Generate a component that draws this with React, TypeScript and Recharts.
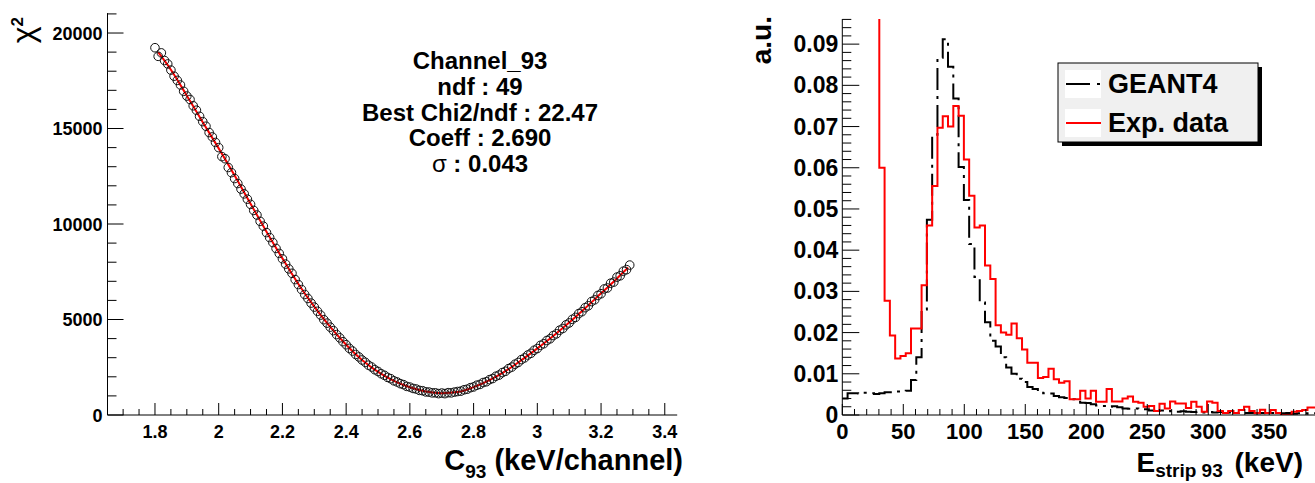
import { ComposedChart, LineChart, Line, Scatter, XAxis, YAxis } from "recharts";

const FONT = "'Liberation Sans', Arial, Helvetica, sans-serif";

// ---- left pad: chi2 scan of the calibration coefficient, channel 93 ----
const SCAN_START = 1.8;
const SCAN_STEP = 0.01;
const CHI2 = [
  19230, 18780, 18960, 18560, 18380, 18060, 17740, 17520, 17280, 16950,
  16700, 16520, 16190, 15960, 15640, 15360, 15120, 14790, 14560, 14270,
  14000, 13530, 13420, 12960, 12690, 12380, 12120, 11830, 11580, 11300,
  11030, 10710, 10470, 10140, 9890, 9550, 9290, 9030, 8720, 8460,
  8180, 7900, 7650, 7420, 7090, 6830, 6570, 6310, 6100, 5860,
  5650, 5430, 5230, 4990, 4810, 4600, 4420, 4210, 4040, 3840,
  3680, 3490, 3350, 3170, 3040, 2880, 2760, 2610, 2510, 2370,
  2280, 2160, 2080, 1970, 1900, 1790, 1730, 1640, 1590, 1500,
  1460, 1390, 1360, 1290, 1270, 1210, 1200, 1160, 1160, 1120,
  1150, 1120, 1170, 1160, 1200, 1230, 1250, 1320, 1350, 1430,
  1470, 1560, 1600, 1700, 1740, 1850, 1910, 2030, 2090, 2220,
  2290, 2430, 2510, 2660, 2750, 2900, 2990, 3140, 3230, 3390,
  3480, 3650, 3730, 3900, 3990, 4160, 4250, 4440, 4530, 4720,
  4820, 5010, 5110, 5310, 5410, 5620, 5720, 5940, 6030, 6260,
  6350, 6600, 6650, 6900, 6960, 7220, 7290, 7530, 7610, 7850,
];

// red fit curve
const FIT_C = [
  1.81, 1.85, 1.9, 1.95, 2.0, 2.05, 2.1, 2.15, 2.2, 2.25, 2.3, 2.35, 2.4, 2.45, 2.5, 2.55,
  2.6, 2.65, 2.7, 2.75, 2.8, 2.85, 2.9, 2.95, 3.0, 3.05, 3.1, 3.15, 3.2, 3.25, 3.285,
];
const FIT_CHI2 = [
  19000, 18080, 16720, 15330, 13960, 12540, 11060, 9600, 8200, 6860, 5670, 4610, 3680, 2880, 2260, 1790,
  1450, 1230, 1140, 1200, 1460, 1830, 2300, 2870, 3490, 4140, 4840, 5590, 6370, 7150, 7720,
];

const STATS = ["Channel_93", "ndf : 49", "Best Chi2/ndf : 22.47", "Coeff : 2.690"];
const SIGMA_TEXT = " : 0.043";

// ---- right pad: energy spectra of strip 93 ----
const BIN_KEV = 13 / 3;
const GEANT4_FIRST_BIN = 0;
const GEANT4 = [
  0.004, 0.0053, 0.0053, 0.0052, 0.0054, 0.0053, 0.0051, 0.0053, 0.0055, 0.0055,
  0.0057, 0.0057, 0.0059, 0.0085, 0.014, 0.0256, 0.0474, 0.068, 0.0867, 0.0912,
  0.0845, 0.0768, 0.0602, 0.0522, 0.0415, 0.0335, 0.0273, 0.0225, 0.018, 0.0166,
  0.014, 0.0115, 0.01, 0.0088, 0.008, 0.0068, 0.0063, 0.0057, 0.0053, 0.0052,
  0.0046, 0.0043, 0.0041, 0.0038, 0.0032, 0.003, 0.0029, 0.0026, 0.0023, 0.0022,
  0.002, 0.0021, 0.0019, 0.0016, 0.0015, 0.0016, 0.0015, 0.0014, 0.0011, 0.001,
  0.0011, 0.0009, 0.001, 0.0008, 0.0009, 0.0008, 0.0007, 0.0008, 0.0006, 0.0007,
  0.0006, 0.0007, 0.0005, 0.0006, 0.0005, 0.0006, 0.0005, 0.0005, 0.0004, 0.0005,
  0.0004, 0.0005, 0.0004, 0.0004, 0.0005, 0.0003, 0.0004, 0.0004, 0.0003, 0.0004,
];
const EXP_FIRST_BIN = 6;
const EXP_DATA = [
  0.15, 0.06, 0.0277, 0.0193, 0.0137, 0.0143, 0.015, 0.021, 0.021, 0.0315,
  0.046, 0.0556, 0.0697, 0.0725, 0.07, 0.075, 0.0726, 0.062, 0.0532, 0.0455,
  0.046, 0.0363, 0.033, 0.0218, 0.02, 0.0195, 0.0222, 0.0186, 0.0159, 0.0127,
  0.0127, 0.009, 0.0092, 0.0112, 0.0087, 0.0078, 0.0082, 0.0038, 0.0038, 0.0059,
  0.004, 0.0059, 0.0032, 0.0032, 0.0063, 0.0033, 0.0033, 0.004, 0.0045, 0.0032,
  0.003, 0.002, 0.0022, 0.001, 0.0027, 0.0016, 0.0033, 0.0028, 0.0028, 0.0017,
  0.0032, 0.002, 0.0008, 0.0033, 0.003, 0.001, 0.0005, 0.001, 0.0005, 0.0012,
  0.002, 0.001, 0.0005, 0.0013, 0.0005, 0.0012, 0.0005, 0, 0, 0.0008,
  0.001, 0.0012, 0.0018, 0.0018,
];
const SERIES = [
  { name: "GEANT4", color: "#000000", dash: "22 6 3 6" },
  { name: "Exp. data", color: "#ff0000", dash: undefined },
];

// axis ticks (ROOT style: major + minor, pointing inwards)
const C_TICKS = Array.from({ length: 35 }, (_, i) => Math.round((1.7 + i * 0.05) * 100) / 100);
const CHI_TICKS = Array.from({ length: 22 }, (_, i) => i * 1000);
const E_TICKS = Array.from({ length: 39 }, (_, i) => i * 10);
const AU_TICKS = Array.from({ length: 49 }, (_, i) => Math.round(i * 2) / 1000);

const scanData = CHI2.map((chi2, i) => ({ c: +(SCAN_START + i * SCAN_STEP).toFixed(2), chi2 }));
const fitData = FIT_C.map((c, i) => ({ c, chi2: FIT_CHI2[i] }));

function toSteps(first: number, values: number[]) {
  const pts = values.map((v, k) => ({ e: (first + k) * BIN_KEV, v }));
  pts.push({ e: (first + values.length) * BIN_KEV, v: values[values.length - 1] });
  return pts;
}
const geantSteps = toSteps(GEANT4_FIRST_BIN, GEANT4);
const expSteps = toSteps(EXP_FIRST_BIN, EXP_DATA);

// pixel positions of the axes inside each svg
const L_AXIS_X = 107.5;
const R_AXIS_X = 102.3;
const AXIS_Y = 415;

const txt = { fontFamily: FONT, fontWeight: "bold" as const, fill: "#000" };

const ChiYTick = (props: any) => {
  const { y, payload } = props;
  const major = payload.value % 5000 === 0;
  return (
    <g>
      <line x1={L_AXIS_X} x2={L_AXIS_X + (major ? 16 : 9)} y1={y} y2={y} stroke="#000" />
      {major && (
        <text x={L_AXIS_X - 5} y={y + 6.5} textAnchor="end" fontSize={18} {...txt}>
          {payload.value}
        </text>
      )}
    </g>
  );
};

const CXTick = (props: any) => {
  const { x, payload } = props;
  const major = Math.round(payload.value * 100) % 20 === 0;
  return (
    <g>
      <line x1={x} x2={x} y1={AXIS_Y} y2={AXIS_Y - (major ? 12 : 6)} stroke="#000" />
      {major && (
        <text x={x} y={AXIS_Y + 22.5} textAnchor="middle" fontSize={18} {...txt}>
          {String(Number(payload.value.toFixed(1)))}
        </text>
      )}
    </g>
  );
};

const AuYTick = (props: any) => {
  const { y, payload } = props;
  const major = Math.round(payload.value * 1000) % 10 === 0;
  const label = payload.value === 0 ? "0" : payload.value.toFixed(2);
  return (
    <g>
      <line x1={R_AXIS_X} x2={R_AXIS_X + (major ? 17 : 9)} y1={y} y2={y} stroke="#000" />
      {major && (
        <text x={R_AXIS_X - 4} y={y + 8} textAnchor="end" fontSize={23} {...txt}>
          {label}
        </text>
      )}
    </g>
  );
};

const EXTick = (props: any) => {
  const { x, payload } = props;
  const major = payload.value % 50 === 0;
  return (
    <g>
      <line x1={x} x2={x} y1={AXIS_Y} y2={AXIS_Y - (major ? 11 : 6)} stroke="#000" />
      {major && (
        <text x={x} y={AXIS_Y + 24} textAnchor="middle" fontSize={22} {...txt}>
          {payload.value}
        </text>
      )}
    </g>
  );
};

export default function App() {
  return (
    <div style={{ position: "absolute", left: 0, top: 0, width: 1315, height: 483, background: "#fff" }}>
      <div style={{ position: "absolute", left: 0, top: 0 }}>
        <ComposedChart width={690} height={483} margin={{ top: 13.1, right: 12.8, bottom: 38, left: 47.5 }}>
          <XAxis
            type="number"
            dataKey="c"
            domain={[1.651, 3.439]}
            allowDataOverflow
            ticks={C_TICKS}
            interval={0}
            tick={CXTick}
            tickLine={false}
            axisLine={{ stroke: "#000" }}
            height={30}
          />
          <YAxis
            type="number"
            dataKey="chi2"
            domain={[0, 21043]}
            allowDataOverflow
            ticks={CHI_TICKS}
            interval={0}
            tick={ChiYTick}
            tickLine={false}
            axisLine={{ stroke: "#000" }}
            width={60}
          />
          <Scatter
            data={scanData}
            dataKey="chi2"
            isAnimationActive={false}
            shape={(p: any) => <circle cx={p.cx} cy={p.cy} r={4.3} fill="none" stroke="#111" strokeWidth={1} />}
          />
          <Line
            data={fitData}
            dataKey="chi2"
            type="monotone"
            stroke="#ff0000"
            strokeWidth={2}
            dot={false}
            isAnimationActive={false}
          />
        </ComposedChart>
      </div>

      <div style={{ position: "absolute", left: 740, top: 0 }}>
        <LineChart width={575} height={483} margin={{ top: 19, right: 0, bottom: 38, left: 42.3 }}>
          <XAxis
            type="number"
            dataKey="e"
            domain={[0, 387.5]}
            allowDataOverflow
            ticks={E_TICKS}
            interval={0}
            tick={EXTick}
            tickLine={false}
            axisLine={{ stroke: "#000" }}
            height={30}
          />
          <YAxis
            type="number"
            domain={[0, 0.0961]}
            allowDataOverflow
            ticks={AU_TICKS}
            interval={0}
            tick={AuYTick}
            tickLine={false}
            axisLine={{ stroke: "#000" }}
            width={60}
          />
          <Line
            data={geantSteps}
            dataKey="v"
            name={SERIES[0].name}
            type="stepAfter"
            stroke={SERIES[0].color}
            strokeWidth={2}
            strokeDasharray={SERIES[0].dash}
            dot={false}
            isAnimationActive={false}
          />
          <Line
            data={expSteps}
            dataKey="v"
            name={SERIES[1].name}
            type="stepAfter"
            stroke={SERIES[1].color}
            strokeWidth={2}
            dot={false}
            isAnimationActive={false}
          />
        </LineChart>
      </div>

      {/* titles, stats box and legend */}
      <svg width={1315} height={483} style={{ position: "absolute", left: 0, top: 0, pointerEvents: "none" }}>
        <text transform="translate(34,17) rotate(-90)" textAnchor="end" fontSize={32} fontFamily={FONT} fill="#000">
          χ<tspan dy={-11} fontSize={17} fontWeight="bold">2</tspan>
        </text>
        <text x={683} y={470} textAnchor="end" fontSize={29} {...txt}>
          C<tspan fontSize={19} dy={8}>93</tspan>
          <tspan dy={-8}> (keV/channel)</tspan>
        </text>
        {STATS.map((s, i) => (
          <text key={s} x={480} y={69 + i * 25.8} textAnchor="middle" fontSize={24} {...txt}>
            {s}
          </text>
        ))}
        <text x={480} y={172} textAnchor="middle" fontSize={24} {...txt}>
          <tspan fontWeight="normal">σ</tspan>
          {SIGMA_TEXT}
        </text>

        <text transform="translate(771,16) rotate(-90)" textAnchor="end" fontSize={28} {...txt}>
          a.u.
        </text>
        <text x={1303} y={472} textAnchor="end" fontSize={28} {...txt}>
          E<tspan fontSize={19} dy={5}>strip 93</tspan>
          <tspan dy={-5} dx={4}> (keV)</tspan>
        </text>

        <rect x={1062} y={67} width={200} height={79} fill="#000" />
        <rect x={1058} y={63} width={200} height={79} fill="#f0f0f0" stroke="#000" strokeWidth={1} />
        {SERIES.map((s, i) => (
          <g key={s.name}>
            <rect x={1065} y={70 + i * 39} width={36} height={28} fill="#fff" />
            <line
              x1={1066}
              x2={1101}
              y1={84 + i * 39}
              y2={84 + i * 39}
              stroke={s.color}
              strokeWidth={2}
              strokeDasharray={s.dash ? "24 7 3 7" : undefined}
            />
            <text x={1108} y={93 + i * 38.5} fontSize={27} {...txt}>
              {s.name}
            </text>
          </g>
        ))}
      </svg>
    </div>
  );
}
